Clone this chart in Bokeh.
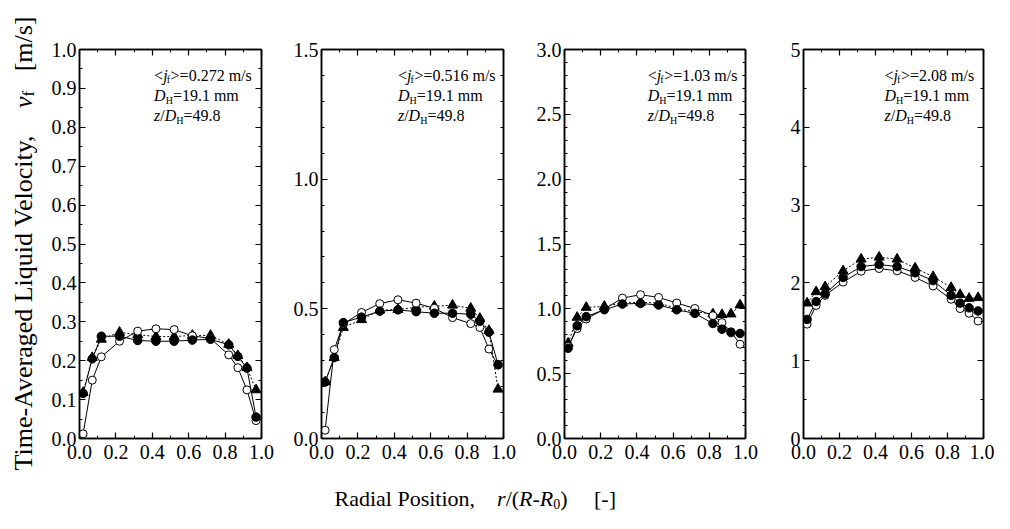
import math
from bokeh.plotting import figure
from bokeh.layouts import row, column
from bokeh.models import Range1d, LinearAxis, SingleIntervalTicker, PrintfTickFormatter
from bokeh.core.properties import value
from bokeh.embed import file_html
from bokeh.resources import INLINE

# ---------------- data ----------------
r_pos = [0.02, 0.07, 0.12, 0.22, 0.32, 0.42, 0.52, 0.62, 0.72, 0.82, 0.87, 0.92, 0.97]

jf_labels = ["0.272", "0.516", "1.03", "2.08"]
y_max = [1.0, 1.5, 3.0, 5.0]
y_major = [0.1, 0.5, 0.5, 1.0]
y_minor_n = [2, 5, 5, 2]
y_fmt = ["%.1f", "%.1f", "%.1f", "%d"]

open_1 = [0.012, 0.150, 0.210, 0.250, 0.276, 0.282, 0.280, 0.264, 0.257, 0.215, 0.182, 0.125, 0.046]
filled_1 = [0.116, 0.205, 0.263, 0.263, 0.252, 0.250, 0.250, 0.253, 0.255, 0.241, 0.211, 0.181, 0.055]
tri_1 = [0.118, 0.208, 0.255, 0.273, 0.267, 0.262, 0.262, 0.265, 0.265, 0.242, 0.213, 0.182, 0.125]

open_2 = [0.032, 0.343, 0.442, 0.486, 0.520, 0.535, 0.522, 0.502, 0.466, 0.443, 0.428, 0.345, 0.283]
filled_2 = [0.218, 0.312, 0.447, 0.468, 0.491, 0.496, 0.489, 0.483, 0.483, 0.479, 0.452, 0.410, 0.285]
tri_2 = [0.218, 0.312, 0.428, 0.458, 0.495, 0.497, 0.506, 0.510, 0.514, 0.502, 0.463, 0.416, 0.190]

open_3 = [0.710, 0.848, 0.922, 0.998, 1.083, 1.109, 1.088, 1.045, 1.003, 0.947, 0.894, 0.823, 0.727]
filled_3 = [0.696, 0.869, 0.940, 0.993, 1.037, 1.042, 1.029, 0.993, 0.965, 0.887, 0.843, 0.817, 0.810]
tri_3 = [0.735, 0.934, 1.011, 1.019, 1.045, 1.050, 1.045, 1.003, 0.978, 0.960, 0.955, 0.960, 1.029]

open_4 = [1.47, 1.71, 1.84, 2.01, 2.15, 2.185, 2.155, 2.07, 1.96, 1.79, 1.67, 1.61, 1.51]
filled_4 = [1.53, 1.76, 1.86, 2.07, 2.21, 2.236, 2.21, 2.13, 2.03, 1.84, 1.74, 1.68, 1.64]
tri_4 = [1.74, 1.886, 1.95, 2.155, 2.305, 2.33, 2.305, 2.19, 2.08, 1.94, 1.85, 1.80, 1.81]

open_series = [open_1, open_2, open_3, open_4]
filled_series = [filled_1, filled_2, filled_3, filled_4]
tri_series = [tri_1, tri_2, tri_3, tri_4]

# ---------------- layout ----------------
SERIF = "Liberation Serif"
PANEL_H = 467
FRAME_H = 389
BORDER_L = [31, 46, 47, 44]
FRAME_W = [182, 182, 181, 180]
BORDER_R = [14, 14, 14, 11]
ANN_X = [0.41, 0.42, 0.46, 0.45]
ANN_F = 16
SUB_F = 10


def style_axis(ax, show_labels, standoff=3):
    ax.axis_line_width = 1.5
    ax.axis_line_color = "black"
    ax.major_tick_in = 6
    ax.major_tick_out = 0
    ax.minor_tick_in = 3
    ax.minor_tick_out = 0
    ax.major_tick_line_width = 1.2
    ax.minor_tick_line_width = 1.0
    ax.major_tick_line_color = "black"
    ax.minor_tick_line_color = "black"
    ax.major_label_standoff = standoff
    ax.major_label_text_font = SERIF
    ax.major_label_text_font_style = "normal"
    if show_labels:
        ax.major_label_text_color = "black"
        ax.major_label_text_font_size = "20px"
    else:
        ax.major_label_text_color = None
        ax.major_label_text_alpha = 0
        ax.major_label_text_font_size = "0px"


def txt(p, x, y, s, size, style="normal", xo=0, yo=0, align="left", baseline="alphabetic", angle=0.0):
    p.text(x=[x], y=[y], text=[s], text_font=value(SERIF), text_font_size=value(f"{size}px"),
           text_font_style=style, text_color="black", text_align=align, text_baseline=baseline,
           x_offset=xo, y_offset=yo, angle=angle)


panels = []
for i in range(4):
    W = BORDER_L[i] + FRAME_W[i] + BORDER_R[i]
    p = figure(width=W, height=PANEL_H, x_range=Range1d(0, 1), y_range=Range1d(0, y_max[i]),
               output_backend="svg", toolbar_location=None,
               min_border_left=BORDER_L[i], min_border_right=BORDER_R[i],
               min_border_top=49, min_border_bottom=PANEL_H - 49 - FRAME_H)
    p.xgrid.visible = False
    p.ygrid.visible = False
    p.outline_line_color = "black"
    p.outline_line_width = 1.5
    p.background_fill_color = "white"
    p.border_fill_color = "white"

    xt = SingleIntervalTicker(interval=0.2, num_minor_ticks=2)
    yt = SingleIntervalTicker(interval=y_major[i], num_minor_ticks=y_minor_n[i])
    p.xaxis.ticker = xt
    p.yaxis.ticker = yt
    p.xaxis.formatter = PrintfTickFormatter(format="%.1f")
    p.yaxis.formatter = PrintfTickFormatter(format=y_fmt[i])
    style_axis(p.xaxis[0], True, standoff=6)
    style_axis(p.yaxis[0], True, standoff=3)
    top = LinearAxis(ticker=xt)
    right = LinearAxis(ticker=yt)
    style_axis(top, False)
    style_axis(right, False)
    p.add_layout(top, "above")
    p.add_layout(right, "right")

    # data
    p.line(r_pos, open_series[i], line_color="black", line_width=1)
    p.line(r_pos, filled_series[i], line_color="black", line_width=1)
    p.line(r_pos, tri_series[i], line_color="black", line_width=1, line_dash="2 2")
    p.scatter(r_pos, tri_series[i], marker="triangle", size=10, fill_color="black", line_color="black")
    p.scatter(r_pos, open_series[i], marker="circle", size=8, fill_color="white", line_color="black", line_width=1)
    p.scatter(r_pos, filled_series[i], marker="circle", size=8.5, fill_color="black", line_color="black")

    # annotation
    ym = y_max[i]
    ax0 = ANN_X[i]
    y1 = ym * (1 - 26 / FRAME_H)
    y2 = ym * (1 - 46 / FRAME_H)
    y3 = ym * (1 - 66 / FRAME_H)
    F = ANN_F
    txt(p, ax0, y1, "<", F)
    txt(p, ax0, y1, "j", F, "italic", xo=0.564 * F)
    txt(p, ax0, y1, "f", SUB_F, xo=0.564 * F + 3.5, yo=4)
    txt(p, ax0, y1, ">=" + jf_labels[i] + " m/s", F, xo=0.564 * F + 0.278 * F + 3)
    txt(p, ax0, y2, "D", F, "italic")
    txt(p, ax0, y2, "H", SUB_F, xo=0.722 * F, yo=5)
    txt(p, ax0, y2, "=19.1 mm", F, xo=0.722 * F + 0.722 * SUB_F)
    txt(p, ax0, y3, "z", F, "italic")
    txt(p, ax0, y3, "/", F, xo=0.389 * F)
    txt(p, ax0, y3, "D", F, "italic", xo=(0.389 + 0.278) * F)
    txt(p, ax0, y3, "H", SUB_F, xo=(0.389 + 0.278 + 0.722) * F, yo=5)
    txt(p, ax0, y3, "=49.8", F, xo=(0.389 + 0.278 + 0.722) * F + 0.722 * SUB_F)
    panels.append(p)

# ---------------- y label figure ----------------
YL_W, YL_H = 48, 513
yl = figure(width=YL_W, height=YL_H, x_range=Range1d(0, YL_W), y_range=Range1d(0, YL_H),
            output_backend="svg", toolbar_location=None, min_border=0,
            x_axis_location=None, y_axis_location=None)
yl.xgrid.visible = False
yl.ygrid.visible = False
yl.outline_line_color = None
FY = 26
ang = math.pi / 2
bx = 23
pos = 43
txt(yl, bx, pos, "Time-Averaged Liquid Velocity,", FY, angle=ang)
pos += 13.19 * FY + 0.75 * FY
txt(yl, bx, pos, "v", FY, "italic", angle=ang)
pos += 0.444 * FY
txt(yl, bx + 5, pos, "f", 17, angle=ang)
pos += 0.333 * 17 + 0.75 * FY
txt(yl, bx, pos, "[m/s]", FY, angle=ang)

# ---------------- x label figure ----------------
XL_W, XL_H = 946, 46
xl = figure(width=XL_W, height=XL_H, x_range=Range1d(0, XL_W), y_range=Range1d(0, XL_H),
            output_backend="svg", toolbar_location=None, min_border=0,
            x_axis_location=None, y_axis_location=None)
xl.xgrid.visible = False
xl.ygrid.visible = False
xl.outline_line_color = None
FX = 22
by = 15
xp = 286
txt(xl, xp, by, "Radial Position,", FX)
xp += 6.39 * FX + 1.0 * FX
txt(xl, xp, by, "r", FX, "italic")
xp += 0.389 * FX
txt(xl, xp, by, "/(", FX)
xp += 0.611 * FX
txt(xl, xp, by, "R", FX, "italic")
xp += 0.611 * FX
txt(xl, xp, by, "-", FX)
xp += 0.333 * FX
txt(xl, xp, by, "R", FX, "italic")
xp += 0.611 * FX
txt(xl, xp, by - 5, "0", 14)
xp += 0.5 * 14
txt(xl, xp, by, ")", FX)
xp += 0.333 * FX + 1.2 * FX
txt(xl, xp, by, "[-]", FX)

layout = row(yl, column(row(*panels), xl))
open("out.html", "w").write(file_html(layout, INLINE))
